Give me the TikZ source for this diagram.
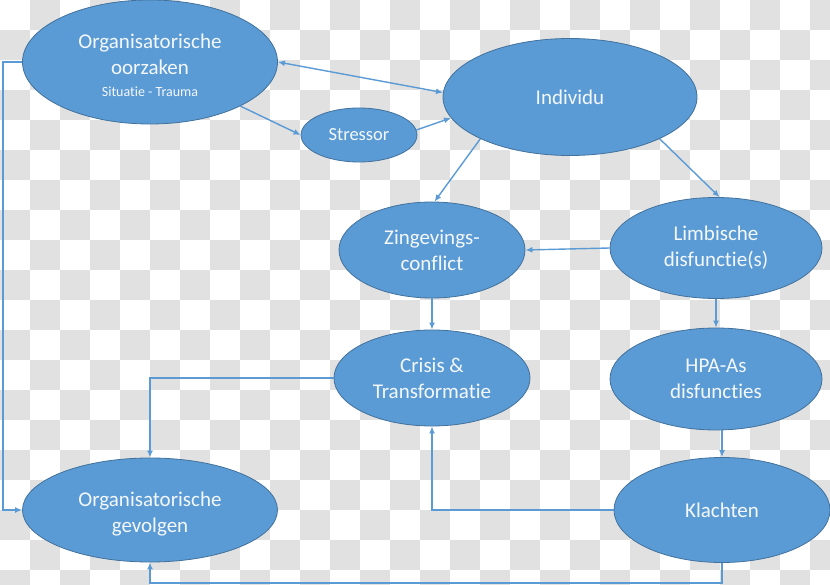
\documentclass[tikz,border=0pt]{standalone}
\usepackage{fontspec}
\setmainfont{Carlito}[Ligatures=NoCommon,Contextuals=NoAlternate]
\usetikzlibrary{shapes.geometric,arrows.meta,calc}
\definecolor{nodefill}{HTML}{5B9BD5}
\definecolor{nodeline}{HTML}{41719C}
\definecolor{linkcol}{HTML}{5B9BD5}
\definecolor{checkgray}{RGB}{225,225,225}
\definecolor{nodetext}{HTML}{F4F8FC}
\newcommand{\nolig}{\kern0pt}
\newcommand{\topstrut}{\rule{0pt}{22pt}}
\begin{document}
\begin{tikzpicture}[x=1pt,y=-1pt,
  bubble/.style={ellipse,fill=nodefill,draw=nodeline,line width=0.8pt,inner sep=0pt,
    text=nodetext,align=center,font=\fontsize{21}{26}\selectfont},
  arr/.style={draw=linkcol,line width=1.4pt,-{Latex[length=7pt,width=6pt]}},
  dblarr/.style={draw=linkcol,line width=1.4pt,{Latex[length=7pt,width=6pt]}-{Latex[length=7pt,width=6pt]}}]
\useasboundingbox (0,0) rectangle (830,585);
\begin{scope}
\clip (0,0) rectangle (830,585);
\fill[white] (0,0) rectangle (830,585);
\foreach \j in {0,2,...,18} \foreach \i in {1,3,...,27}
  \fill[checkgray] (\i*30,\j*30) rectangle (\i*30+30,\j*30+30);
\foreach \j in {1,3,...,19} \foreach \i in {0,2,...,26}
  \fill[checkgray] (\i*30,\j*30) rectangle (\i*30+30,\j*30+30);
\end{scope}

\node[bubble,minimum width=255pt,minimum height=124pt] (oo) at (150,62)
  {\topstrut Organisatorische\\oorzaken\\[-4pt]{\fontsize{14}{16}\selectfont Situat\nolig ie - Trauma}};
\node[bubble,minimum width=254pt,minimum height=117pt] (ind) at (570,97) {Individu};
\node[bubble,minimum width=116pt,minimum height=54pt,font=\fontsize{18.5}{22}\selectfont] (st) at (359,135) {Stressor};
\node[bubble,minimum width=186pt,minimum height=96pt] (zing) at (432,250) {Zingevings-\\conf\nolig lict};
\node[bubble,minimum width=212pt,minimum height=101pt] (limb) at (716,248) {Limbische\\disfunct\nolig ie(s)};
\node[bubble,minimum width=196pt,minimum height=96pt] (cris) at (432,378) {Crisis \&\\Transformat\nolig ie};
\node[bubble,minimum width=212pt,minimum height=102pt] (hpa) at (716,379) {HPA-As\\disfunct\nolig ies};
\node[bubble,minimum width=216pt,minimum height=105pt] (kl) at (722,510) {Klachten};
\node[bubble,minimum width=255pt,minimum height=104pt] (og) at (150,510) {\topstrut Organisatorische\\gevolgen};

\draw[dblarr] (oo.east) -- (ind.178);
\draw[arr] (oo.-26) -- (st.west);
\draw[arr] (st.5) -- (ind.190);
\draw[arr] (ind.205) -- (zing.87);
\draw[arr] (ind.-25) -- (limb.86);
\draw[arr] (limb.west) -- (zing.east);
\draw[arr] (zing.south) -- (cris.north);
\draw[arr] (limb.south) -- (hpa.north);
\draw[arr] (hpa.south -| kl.north) -- (kl.north);
\draw[arr] (cris.west) -| (og.north);
\draw[arr] (kl.west) -| (cris.south);
\draw[arr] (kl.south) -- ++(0,20) -| (og.south);
\draw[arr] (oo.west) -- ++(-19,0) |- (og.west);
\end{tikzpicture}
\end{document}
